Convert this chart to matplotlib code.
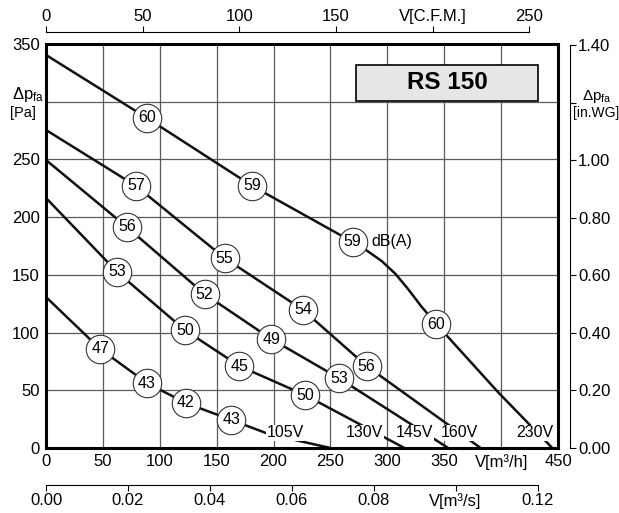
import numpy as np
import matplotlib.pyplot as plt
from matplotlib.patches import Rectangle

plt.rcParams['font.family'] = ['Liberation Sans', 'DejaVu Sans']
plt.rcParams['mathtext.fontset'] = 'custom'
plt.rcParams['mathtext.rm'] = 'Liberation Sans'
plt.rcParams['mathtext.it'] = 'Liberation Sans:italic'

# fan curves, V [m3/h] vs dp [Pa]
curves = {
    '230V': ([0, 88.7, 181.3, 269.6, 282.0, 295.0, 307.0, 318.0, 330.0, 343.0, 397.2, 445.0],
             [340.5, 285.9, 227.0, 178.5, 171.0, 162.0, 151.0, 138.0, 122.5, 107.4, 48.5, 0]),
    '160V': ([0, 79.1, 156.9, 225.9, 281.8, 382.0],
             [275.5, 227.0, 164.6, 119.6, 71.0, 0]),
    '145V': ([0, 71.0, 139.4, 198.0, 257.3, 353.5],
             [249.5, 191.5, 133.4, 94.4, 60.6, 0]),
    '130V': ([0, 62.5, 122.0, 170.0, 227.6, 315.0],
             [216.6, 152.5, 102.2, 71.0, 45.9, 0]),
    '105V': ([0, 47.6, 88.7, 122.8, 163.0, 196.0, 250.0],
             [130.8, 85.8, 56.3, 39.0, 24.3, 12.0, 0]),
}
# sound levels dB(A) along each curve
db_flow = {
    '230V': [88.7, 181.3, 269.6, 343.0],
    '160V': [79.1, 156.9, 225.9, 281.8],
    '145V': [71.0, 139.4, 198.0, 257.3],
    '130V': [62.5, 122.0, 170.0, 227.6],
    '105V': [47.6, 88.7, 122.8, 163.0],
}
db_vals = {
    '230V': [60, 59, 59, 60],
    '160V': [57, 55, 54, 56],
    '145V': [56, 52, 49, 53],
    '130V': [53, 50, 45, 50],
    '105V': [47, 43, 42, 43],
}
volt_label_x = {'105V': 210.0, '130V': 280.0, '145V': 324.0, '160V': 363.0, '230V': 429.2}

PA_PER_INWG = 249.089
M3H_PER_CFM = 1.69901
PX = 0.72  # points per pixel at dpi 100

fig = plt.figure(figsize=(6.19, 5.13), dpi=100)
L, R, T, B = 46 / 619, 558 / 619, 44 / 513, 448 / 513
ax = fig.add_axes([L, 1 - B, R - L, B - T])
ax.set_xlim(0, 450)
ax.set_ylim(0, 350)

ax.set_xticks(np.arange(0, 451, 50))
ax.set_xticklabels(['0', '50', '100', '150', '200', '250', '300', '350', 'V[m³/h]', '450'])
ax.set_yticks(np.arange(0, 351, 50))
ax.set_yticklabels(['0', '50', '100', '150', '200', '250', '', '350'])
ax.tick_params(length=0, labelsize=12, pad=4.5)
ax.grid(True, color='#5a5a5a', lw=0.9)
ax.set_axisbelow(True)
for s in ax.spines.values():
    s.set_linewidth(2.2)
    s.set_zorder(6)

ax.text(-0.066, 0.874, r'$\Delta$p$_{\mathregular{fa}}$', transform=ax.transAxes,
        fontsize=12, ha='left', va='center')
ax.text(-0.071, 0.830, '[Pa]', transform=ax.transAxes, fontsize=10.5, ha='left', va='center')

for name, (xs, ys) in curves.items():
    ax.plot(xs, ys, color='#111111', lw=1.8, zorder=3, solid_capstyle='butt')
    fx = np.array(db_flow[name])
    fy = np.interp(fx, xs, ys)
    ax.plot(fx, fy, 'o', ms=20.5, mfc='white', mec='#333333', mew=0.8, zorder=4)
    for x, y, v in zip(fx, fy, db_vals[name]):
        ax.text(x, y, str(v), ha='center', va='center', fontsize=11.5, zorder=5)
    ax.text(volt_label_x[name], 13, name, ha='center', va='center', fontsize=11.5, zorder=5,
            bbox=dict(fc='white', ec='none', pad=0.5))

ax.text(286, 178.5, 'dB(A)', ha='left', va='center', fontsize=11.5, zorder=5)

ax.add_patch(Rectangle((0.605, 0.859), 0.356, 0.089, transform=ax.transAxes,
                       fc='#e6e6e6', ec='black', lw=1.2, zorder=5))
ax.text(0.783, 0.9035, 'RS 150', transform=ax.transAxes, ha='center', va='center',
        fontsize=17.5, fontweight='bold', zorder=6)

# right axis in.WG
ax2 = ax.twinx()
ax2.set_ylim(0, 350 / PA_PER_INWG)
for s in ['top', 'bottom', 'left']:
    ax2.spines[s].set_visible(False)
ax2.spines['right'].set_position(('outward', 12 * PX))
ax2.spines['right'].set_bounds(0, 1.4)
ax2.spines['right'].set_linewidth(0.8)
ax2.set_yticks(np.arange(0, 1.41, 0.2))
ax2.set_yticklabels(['0.00', '0.20', '0.40', '0.60', '0.80', '1.00', '', '1.40'])
ax2.tick_params(axis='y', direction='out', length=6 * PX, width=0.8, labelsize=12, pad=1.5)
ax2.text(1.076, 0.871, r'$\Delta$p$_{\mathregular{fa}}$',
         transform=ax2.transAxes, fontsize=11, ha='center', va='center')
ax2.text(1.074, 0.83, '[in.WG]', transform=ax2.transAxes,
         fontsize=10, ha='center', va='center')

# top axis CFM
ax3 = ax.twiny()
ax3.set_xlim(0, 450 / M3H_PER_CFM)
for s in ['bottom', 'left', 'right']:
    ax3.spines[s].set_visible(False)
ax3.spines['top'].set_position(('outward', 12 * PX))
ax3.spines['top'].set_bounds(0, 250)
ax3.spines['top'].set_linewidth(0.8)
ax3.set_xticks(np.arange(0, 251, 50))
ax3.set_xticklabels(['0', '50', '100', '150', 'V[C.F.M.]', '250'])
ax3.tick_params(axis='x', direction='out', length=6 * PX, width=0.8, labelsize=12, pad=1.5)

# bottom axis m3/s
ax4 = ax.twiny()
ax4.set_xlim(0, 450 / 3600)
ax4.xaxis.set_ticks_position('bottom')
ax4.xaxis.set_label_position('bottom')
for s in ['top', 'left', 'right']:
    ax4.spines[s].set_visible(False)
ax4.spines['bottom'].set_position(('outward', 37 * PX))
ax4.spines['bottom'].set_bounds(0, 0.12)
ax4.spines['bottom'].set_linewidth(0.8)
ax4.set_xticks(np.arange(0, 0.121, 0.02))
ax4.set_xticklabels(['0.00', '0.02', '0.04', '0.06', '0.08', 'V[m³/s]', '0.12'])
ax4.tick_params(axis='x', direction='out', length=6 * PX, width=0.8, labelsize=12, pad=1.5)

fig.savefig('out.png', dpi=100, facecolor='white')
